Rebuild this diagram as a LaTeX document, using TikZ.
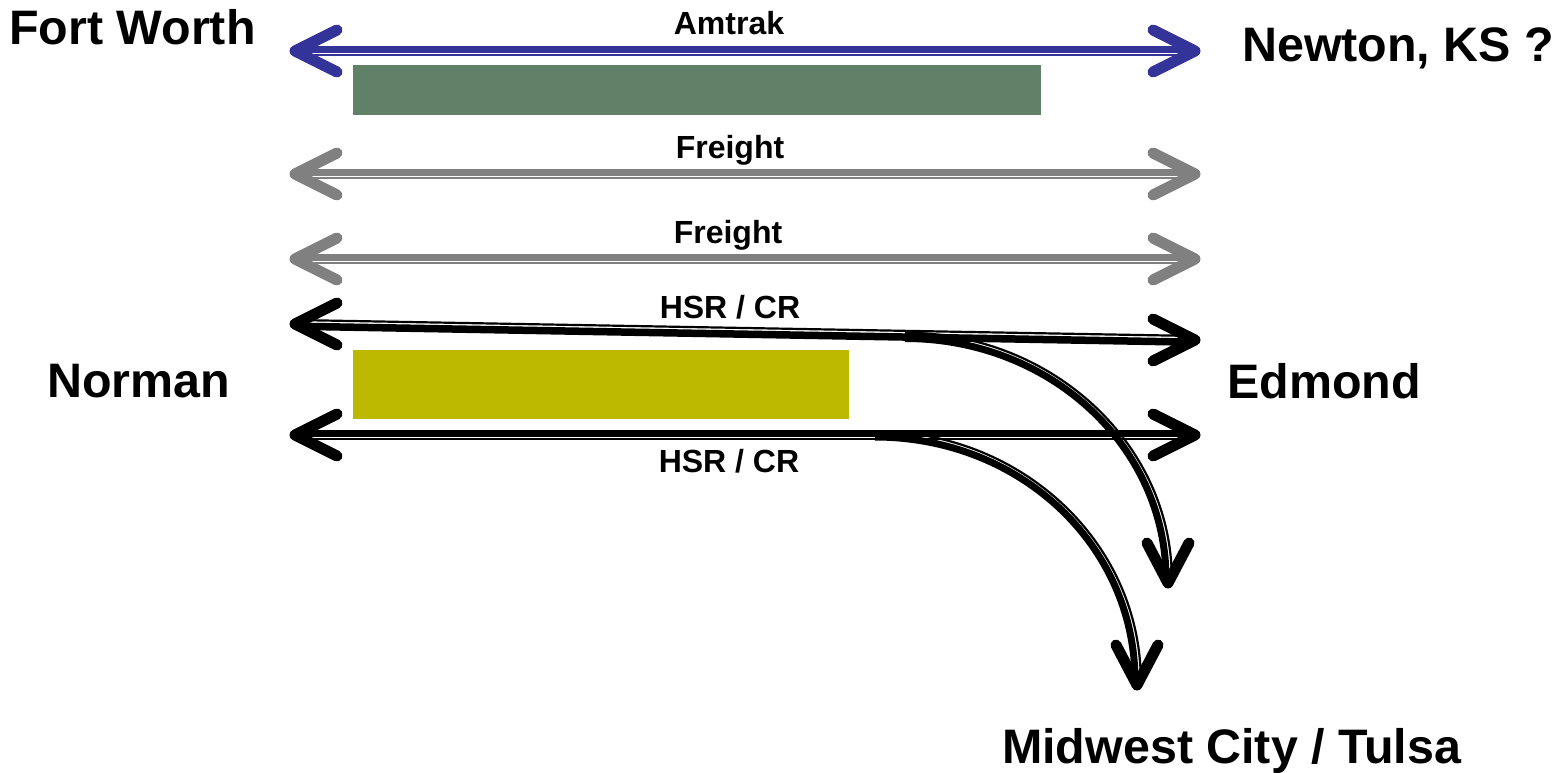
\documentclass[tikz,border=0pt]{standalone}
\usepackage{fontspec}
\setmainfont{Liberation Sans}
\definecolor{amblue}{RGB}{51,51,153}
\definecolor{frgray}{RGB}{128,128,128}
\definecolor{boxgreen}{RGB}{96,128,104}
\definecolor{boxyellow}{RGB}{189,185,0}
\tikzset{
  city/.style={anchor=base west, inner sep=0pt, font=\fontsize{48.4}{58}\selectfont\bfseries},
  tracklabel/.style={anchor=base, inner sep=0pt, font=\fontsize{32}{38}\selectfont\bfseries},
  thickline/.style={line width=6.5pt},
  thinline/.style={line width=2.2pt},
  head/.style={line width=11pt, line cap=round, line join=round},
}
\begin{document}
\begin{tikzpicture}[x=1pt,y=-1pt]
\useasboundingbox (0,0) rectangle (1558,773);
% boxes
\fill[boxgreen] (353,65) rectangle (1041,115);
\fill[boxyellow] (353,350) rectangle (849,419);
% labels
\node[city] (fw) at (9,45) {Fort Worth};
\node[city] (nw) at (1242,62) {Newton, KS ?};
\node[city] (no) at (47,397) {Norman};
\node[city] (ed) at (1227,398) {Edmond};
\node[city] (mt) at (1002,763) {Midwest City / Tulsa};
\node[tracklabel] (lam) at (729,35) {Amtrak};
\node[tracklabel] (lf1) at (730,159) {Freight};
\node[tracklabel] (lf2) at (728,243) {Freight};
\node[tracklabel] (lh1) at (730,318) {HSR / CR};
\node[tracklabel] (lh2) at (729,472) {HSR / CR};
% end points
\coordinate (amL) at (295,51);  \coordinate (amR) at (1195,51);
\coordinate (f1L) at (295,174); \coordinate (f1R) at (1195,174);
\coordinate (f2L) at (295,259); \coordinate (f2R) at (1195,259);
\coordinate (h1L) at (295,324); \coordinate (h1R) at (1195,340);
\coordinate (h2L) at (295,435); \coordinate (h2R) at (1195,435);
\coordinate (c1S) at (905,336.5); \coordinate (c1E) at (1168,583);
\coordinate (c2S) at (875,435);   \coordinate (c2E) at (1137,685);
% Amtrak
\begin{scope}[amblue]
\draw[thickline] ([yshift=1.7pt]amL) -- ([yshift=1.7pt]amR);
\draw[thinline] ([yshift=-3.8pt]amL) -- ([yshift=-3.8pt]amR);
\draw[head] (amL) ++(42,-21) -- (amL) -- ++(42,21);
\draw[head] (amR) ++(-42,-21) -- (amR) -- ++(-42,21);
\end{scope}
% Freight
\begin{scope}[frgray]
\draw[thickline] ([yshift=1.7pt]f1L) -- ([yshift=1.7pt]f1R);
\draw[thinline] ([yshift=-3.8pt]f1L) -- ([yshift=-3.8pt]f1R);
\draw[head] (f1L) ++(42,-21) -- (f1L) -- ++(42,21);
\draw[head] (f1R) ++(-42,-21) -- (f1R) -- ++(-42,21);
\draw[thickline] ([yshift=1.7pt]f2L) -- ([yshift=1.7pt]f2R);
\draw[thinline] ([yshift=-3.8pt]f2L) -- ([yshift=-3.8pt]f2R);
\draw[head] (f2L) ++(42,-21) -- (f2L) -- ++(42,21);
\draw[head] (f2R) ++(-42,-21) -- (f2R) -- ++(-42,21);
\end{scope}
% HSR upper
\draw[thickline,line width=7.5pt] ([yshift=-2.2pt]h1L) -- ([yshift=-2.2pt]h1R);
\draw[thinline] ([yshift=4pt]h1L) -- ([yshift=4pt]h1R);
\draw[head] (h1L) ++(42,-21) -- (h1L) -- ++(42,21);
\draw[head] (h1R) ++(-42,-21) -- (h1R) -- ++(-42,21);
% HSR lower
\draw[thickline,line width=7pt] ([yshift=2pt]h2L) -- ([yshift=2pt]h2R);
\draw[thinline] ([yshift=-3.8pt]h2L) -- ([yshift=-3.8pt]h2R);
\draw[head] (h2L) ++(42,-21) -- (h2L) -- ++(42,21);
\draw[head] (h2R) ++(-42,-21) -- (h2R) -- ++(-42,21);
% branch curves
\draw[thickline,line width=7pt] ([yshift=-2pt]c1S) .. controls (1050,338.5) and (1166,446) .. ([xshift=-2pt,yshift=4pt]c1E);
\draw[thinline] ([yshift=3.8pt]c1S) .. controls (1052,332.7) and (1171.8,444) .. ([xshift=3.8pt,yshift=4pt]c1E);
\draw[head] (c1E) ++(-21,-40) -- (c1E) -- ++(21,-40);
\draw[thickline,line width=7pt] ([yshift=-2pt]c2S) .. controls (1020,437) and (1135,545) .. ([xshift=-2pt,yshift=4pt]c2E);
\draw[thinline] ([yshift=3.8pt]c2S) .. controls (1022,431.2) and (1140.8,543) .. ([xshift=3.8pt,yshift=4pt]c2E);
\draw[head] (c2E) ++(-21,-40) -- (c2E) -- ++(21,-40);
\end{tikzpicture}
\end{document}
